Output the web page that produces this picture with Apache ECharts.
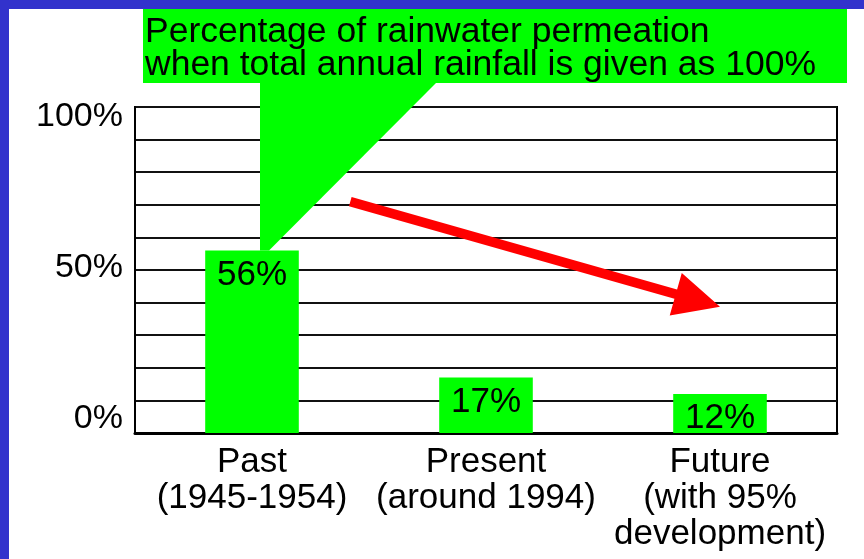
<!DOCTYPE html>
<html>
<head>
<meta charset="utf-8">
<script src="https://cdn.jsdelivr.net/npm/echarts@6/dist/echarts.min.js"></script>
<style>
html,body{margin:0;padding:0;background:#fff;}
#chart{width:864px;height:559px;}
</style>
</head>
<body>
<div id="chart"></div>
<script>
// ---- data ----
const categories = ['Past\n(1945-1954)', 'Present\n(around 1994)', 'Future\n(with 95%\ndevelopment)'];
const permeation = [56, 17, 12];
const yTickLabels = [0, 50, 100];
const titleLines = ['Percentage of rainwater permeation', 'when total annual rainfall is given as 100%'];
// trend arrow anchors in data space: [category position, percent]
const arrowFrom = [0.42, 71];
const arrowTo = [2.0, 38.7];

const FONT = '"Liberation Sans", Arial, sans-serif';
const chart = echarts.init(document.getElementById('chart'), null, {renderer: 'canvas'});

const yRich = {
  t: {fontSize: 34, fontFamily: FONT, color: '#000', padding: [19, 0, 0, 0]},
  m: {fontSize: 34, fontFamily: FONT, color: '#000', padding: [0, 0, 5, 0]},
  b: {fontSize: 34, fontFamily: FONT, color: '#000', padding: [0, 0, 29, 0]}
};

chart.setOption({
  backgroundColor: '#ffffff',
  animation: false,
  grid: {left: 135, top: 107, right: 27, bottom: 126, show: true, borderColor: '#000', borderWidth: 2, containLabel: false},
  xAxis: {
    type: 'category',
    data: categories,
    axisLine: {show: true, lineStyle: {color: '#000', width: 3}},
    axisTick: {show: false},
    axisLabel: {color: '#000', fontSize: 35, fontFamily: FONT, lineHeight: 36, margin: 11, interval: 0}
  },
  yAxis: {
    type: 'value', min: 0, max: 100, interval: 10,
    axisLine: {show: true, lineStyle: {color: '#000', width: 2}},
    axisTick: {show: false},
    splitLine: {show: true, lineStyle: {color: '#111', width: 2}},
    axisLabel: {
      margin: 12,
      rich: yRich,
      formatter: function (v) {
        if (yTickLabels.indexOf(v) < 0) return '';
        const key = v === 100 ? 't' : (v === 50 ? 'm' : 'b');
        return '{' + key + '|' + v + '%}';
      }
    }
  },
  series: [{
    type: 'bar',
    data: permeation,
    barWidth: '40%',
    itemStyle: {color: '#00ff00'},
    label: {show: true, position: 'insideTop', distance: 7, color: '#000', fontSize: 35, fontFamily: FONT, formatter: '{c}%'}
  }]
});

function px(pos) {
  const n = categories.length;
  const i0 = Math.min(Math.floor(pos[0]), n - 2);
  const a = chart.convertToPixel({gridIndex: 0}, [i0, pos[1]]);
  const b = chart.convertToPixel({gridIndex: 0}, [i0 + 1, pos[1]]);
  return [a[0] + (pos[0] - i0) * (b[0] - a[0]), a[1]];
}

const tip = chart.convertToPixel({gridIndex: 0}, [0, permeation[0]]);
const s = px(arrowFrom), e = px(arrowTo);
const dx = e[0] - s[0], dy = e[1] - s[1];
const len = Math.sqrt(dx * dx + dy * dy);
const ux = dx / len, uy = dy / len, nx = -uy, ny = ux;
const headLen = 46, headHalf = 22, shaftHalf = 4.8;
const hb = [e[0] - ux * headLen, e[1] - uy * headLen];
const arrowPts = [
  [s[0] + nx * shaftHalf, s[1] + ny * shaftHalf],
  [hb[0] + nx * shaftHalf, hb[1] + ny * shaftHalf],
  [hb[0] + nx * headHalf, hb[1] + ny * headHalf],
  [e[0], e[1]],
  [hb[0] - nx * headHalf, hb[1] - ny * headHalf],
  [hb[0] - nx * shaftHalf, hb[1] - ny * shaftHalf],
  [s[0] - nx * shaftHalf, s[1] - ny * shaftHalf]
];

chart.setOption({
  graphic: [
    {type: 'rect', shape: {x: 0, y: 0, width: 9, height: 559}, style: {fill: '#3232cc'}, z: 100},
    {type: 'rect', shape: {x: 0, y: 0, width: 864, height: 9}, style: {fill: '#3232cc'}, z: 100},
    {type: 'rect', shape: {x: 143, y: 9, width: 704, height: 74}, style: {fill: '#00ff00'}, z: 50},
    {type: 'polygon', shape: {points: [[tip[0] + 8, 82], [437, 82], [tip[0] + 17, tip[1]], [tip[0] + 8, tip[1]]]}, style: {fill: '#00ff00'}, z: 50},
    {type: 'text', x: 145, y: 16, z: 60, style: {text: titleLines.join('\n'), fill: '#000', font: '35.5px ' + FONT, lineHeight: 33, textVerticalAlign: 'top', textAlign: 'left'}},
    {type: 'polygon', shape: {points: arrowPts}, style: {fill: '#ff0000'}, z: 50}
  ]
});
</script>
</body>
</html>
